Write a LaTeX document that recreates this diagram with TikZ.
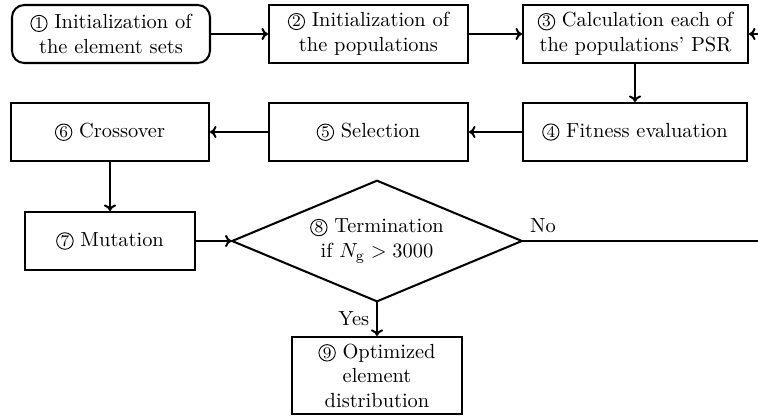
\documentclass[tikz,border=0pt]{standalone}
\usetikzlibrary{shapes.geometric, arrows.meta}

\newcommand{\stepno}[1]{\tikz[baseline=(n.base)]\node[circle, draw, line width=0.45pt, inner sep=0.4pt, minimum size=0pt, sharp corners, font=\footnotesize] (n) {#1};}
\tikzset{
    box/.style={draw, line width=1pt, align=center, minimum height=58*0.49pt},
    >={To[length=3.2pt, width=6pt]},
}

\begin{document}
\begin{tikzpicture}[x=0.49pt, y=-0.49pt, line width=1pt]
        \useasboundingbox (0, 0) rectangle (758, 419);
        \node[box, rounded corners=6pt, minimum width=198*0.49pt] (init) at (111, 34) {\stepno{1} Initialization of\\the element sets};
        \node[box, minimum width=199*0.49pt] (pop) at (368.5, 34) {\stepno{2} Initialization of\\the populations};
        \node[box, minimum width=225*0.49pt] (psr) at (635.5, 34) {\stepno{3} Calculation each of\\the populations' PSR};
        \node[box, minimum width=224*0.49pt] (fit) at (635, 132) {\stepno{4} Fitness evaluation};
        \node[box, minimum width=199*0.49pt] (sel) at (368.5, 132) {\stepno{5} Selection};
        \node[box, minimum width=198*0.49pt] (cross) at (110, 132) {\stepno{6} Crossover};
        \node[box, minimum width=170*0.49pt] (mut) at (110, 241) {\stepno{7} Mutation};
        \node[draw, diamond, aspect=2.4, inner sep=0pt, align=center, minimum width=290*0.49pt, minimum height=121*0.49pt] (term) at (377, 241) {\stepno{8} Termination\\if $N_{\mathrm{g}} > 3000$};
        \node[box, minimum width=170*0.49pt, minimum height=73*0.49pt] (opt) at (377, 375.5) {\stepno{9} Optimized\\element\\distribution};
        \coordinate (noend) at (758, 241);
        \coordinate (backin) at (758, 34);
        \draw[->] (init) -- (pop);
        \draw[->] (pop) -- (psr);
        \draw[->] (fit |- psr.south) -- (fit);
        \draw[->] (fit) -- (sel);
        \draw[->] (sel) -- (cross);
        \draw[->] (cross) -- (mut);
        \draw[->] (mut) -- (term);
        \draw[->] (term) -- node[left] {Yes} (opt);
        \draw (term.east) -- (noend) node[pos=0, above right] {No};
        \draw[->] (backin) -- (psr);
    \end{tikzpicture}
\end{document}
